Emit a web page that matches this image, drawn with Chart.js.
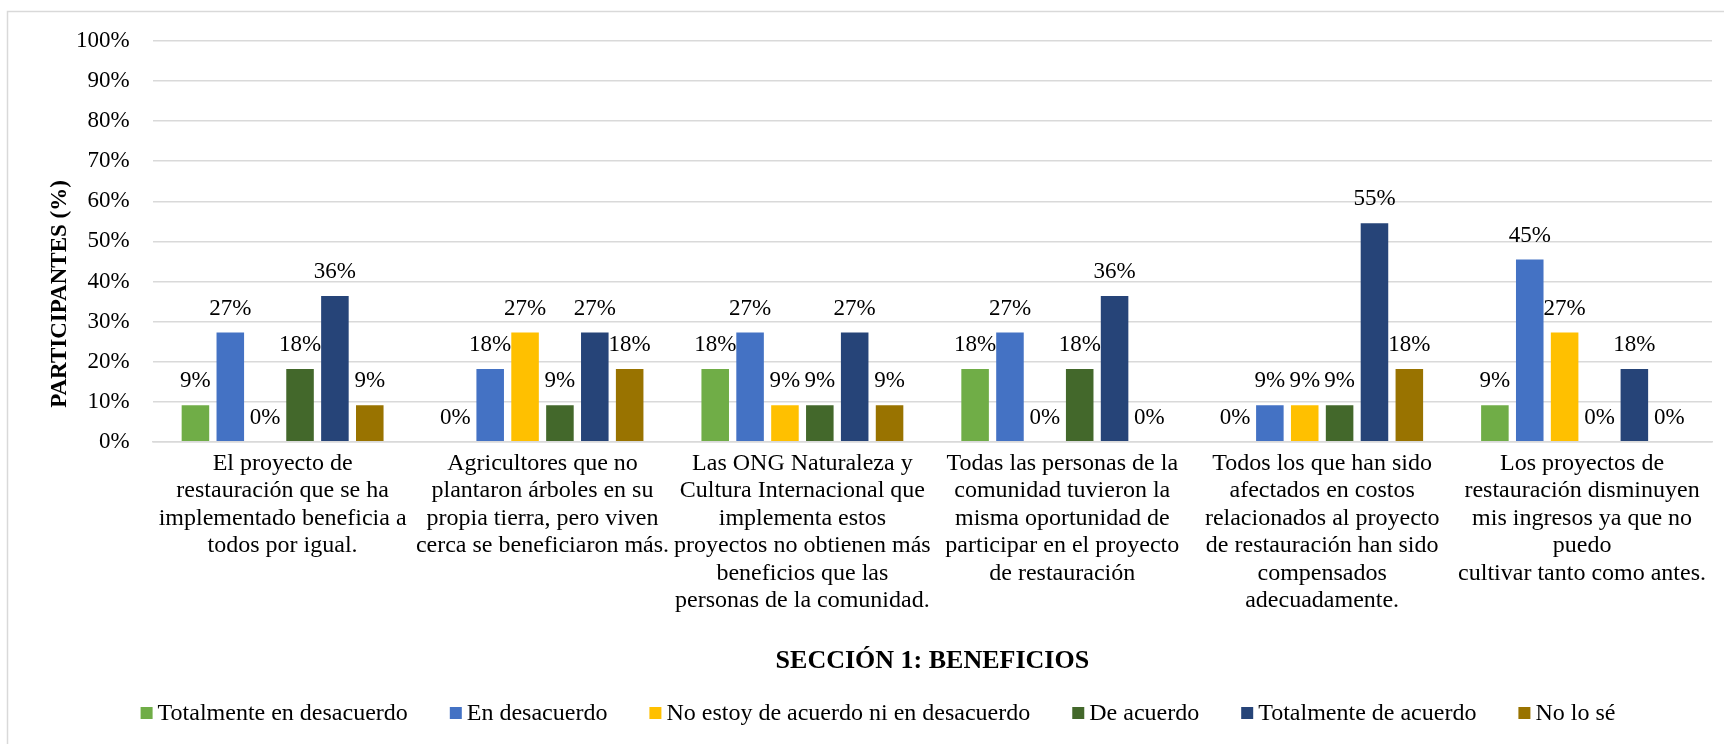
<!DOCTYPE html>
<html lang="es">
<head>
<meta charset="utf-8">
<title>Sección 1: Beneficios</title>
<script src="https://cdn.jsdelivr.net/npm/chart.js@4.4.1/dist/chart.umd.min.js"></script>
<style>
    html, body { margin: 0; padding: 0; background: #fff; }
    #wrap { position: relative; width: 1724px; height: 744px; }
</style>
</head>
<body>
<div id="wrap"><canvas id="chart"></canvas></div>
<script>
// Datos del gráfico (porcentaje de participantes, n = 11)
const categorias = [
    ['El proyecto de', 'restauración que se ha', 'implementado beneficia a', 'todos por igual.'],
    ['Agricultores que no', 'plantaron árboles en su', 'propia tierra, pero viven', 'cerca se beneficiaron más.'],
    ['Las ONG Naturaleza y', 'Cultura Internacional que', 'implementa estos', 'proyectos no obtienen más', 'beneficios que las', 'personas de la comunidad.'],
    ['Todas las personas de la', 'comunidad tuvieron la', 'misma oportunidad de', 'participar en el proyecto', 'de restauración'],
    ['Todos los que han sido', 'afectados en costos', 'relacionados al proyecto', 'de restauración han sido', 'compensados', 'adecuadamente.'],
    ['Los proyectos de', 'restauración disminuyen', 'mis ingresos ya que no', 'puedo', 'cultivar tanto como antes.']
];

const series = [
    'Totalmente en desacuerdo',
    'En desacuerdo',
    'No estoy de acuerdo ni en desacuerdo',
    'De acuerdo',
    'Totalmente de acuerdo',
    'No lo sé'
];

const totalmenteDesacuerdo = [9.09, 0, 18.18, 18.18, 0, 9.09];
const enDesacuerdo = [27.27, 18.18, 27.27, 27.27, 9.09, 45.45];
const neutral = [0, 27.27, 9.09, 0, 9.09, 27.27];
const deAcuerdo = [18.18, 9.09, 9.09, 18.18, 9.09, 0];
const totalmenteAcuerdo = [36.36, 27.27, 27.27, 36.36, 54.55, 18.18];
const noLoSe = [9.09, 18.18, 9.09, 0, 18.18, 0];

const ejeY = [0, 10, 20, 30, 40, 50, 60, 70, 80, 90, 100];

const colores = ['#70AD47', '#4472C4', '#FFC000', '#43682B', '#264478', '#997300'];
const valores = [totalmenteDesacuerdo, enDesacuerdo, neutral, deAcuerdo, totalmenteAcuerdo, noLoSe];

const FUENTE = '"Liberation Serif", "Times New Roman", serif';
const GRIS = '#d9d9d9';

// Marco, título del eje Y, etiquetas de datos y leyenda
const extras = {
    id: 'extras',
    beforeDraw(chart) {
        const ctx = chart.ctx;
        ctx.save();
        ctx.strokeStyle = GRIS;
        ctx.lineWidth = 1.5;
        ctx.beginPath();
        ctx.moveTo(7.5, chart.height);
        ctx.lineTo(7.5, 11.5);
        ctx.lineTo(chart.width, 11.5);
        ctx.stroke();
        ctx.restore();
    },
    afterDatasetsDraw(chart) {
        const ctx = chart.ctx;
        ctx.save();
        ctx.font = '23px ' + FUENTE;
        ctx.fillStyle = '#000';
        ctx.textAlign = 'center';
        ctx.textBaseline = 'middle';
        chart.data.datasets.forEach((ds, i) => {
            const meta = chart.getDatasetMeta(i);
            meta.data.forEach((bar, j) => {
                // redondeo a entero, como en el original (45,45 -> 45 %)
                ctx.fillText(Math.round(ds.data[j] - 0.01) + '%', bar.x, bar.y - 24);
            });
        });
        ctx.restore();
    },
    afterDraw(chart) {
        const ctx = chart.ctx;
        ctx.save();

        // título del eje Y
        ctx.font = 'bold 23px ' + FUENTE;
        ctx.fillStyle = '#000';
        ctx.textAlign = 'center';
        ctx.textBaseline = 'middle';
        ctx.translate(60, 294);
        ctx.rotate(-Math.PI / 2);
        ctx.fillText('PARTICIPANTES (%)', 0, 0);
        ctx.setTransform(1, 0, 0, 1, 0, 0);

        // leyenda
        ctx.font = '24px ' + FUENTE;
        ctx.textAlign = 'left';
        const caja = 12, hueco = 5, sep = 42;
        const anchos = series.map(s => caja + hueco + ctx.measureText(s).width);
        const total = anchos.reduce((a, b) => a + b, 0) + sep * (series.length - 1);
        let x = 878 - total / 2;
        const y = 713;
        series.forEach((s, i) => {
            ctx.fillStyle = colores[i];
            ctx.fillRect(x, y - caja / 2, caja, caja);
            ctx.fillStyle = '#000';
            ctx.fillText(s, x + caja + hueco, y + 1);
            x += anchos[i] + sep;
        });
        ctx.restore();
    }
};

new Chart(document.getElementById('chart'), {
    type: 'bar',
    data: {
        labels: categorias,
        datasets: series.map((s, i) => ({
            label: s,
            data: valores[i],
            backgroundColor: colores[i],
            categoryPercentage: 0.805,
            barPercentage: 0.79
        }))
    },
    options: {
        responsive: true,
        maintainAspectRatio: false,
        animation: false,
        layout: { padding: { left: 53, right: 12, top: 41, bottom: 67 } },
        plugins: {
            legend: { display: false },
            tooltip: { enabled: false }
        },
        scales: {
            x: {
                grid: { display: false, drawTicks: false },
                border: { color: GRIS, width: 1.5 },
                ticks: {
                    color: '#000',
                    padding: 8,
                    maxRotation: 0,
                    autoSkip: false,
                    font: { family: FUENTE, size: 24, lineHeight: 1.146 }
                },
                title: {
                    display: true,
                    text: 'SECCIÓN 1: BENEFICIOS',
                    color: '#000',
                    font: { family: FUENTE, size: 26, weight: 'bold', lineHeight: 1.2 },
                    padding: { top: 23, bottom: 0 }
                }
            },
            y: {
                min: ejeY[0],
                max: ejeY[ejeY.length - 1],
                afterBuildTicks: (scale) => { scale.ticks = ejeY.map(v => ({ value: v })); },
                grid: { color: GRIS, lineWidth: 1.5, drawTicks: false },
                border: { display: false },
                ticks: {
                    color: '#000',
                    padding: 23,
                    font: { family: FUENTE, size: 23 },
                    callback: v => v + '%'
                }
            }
        }
    },
    plugins: [extras]
});
</script>
</body>
</html>
